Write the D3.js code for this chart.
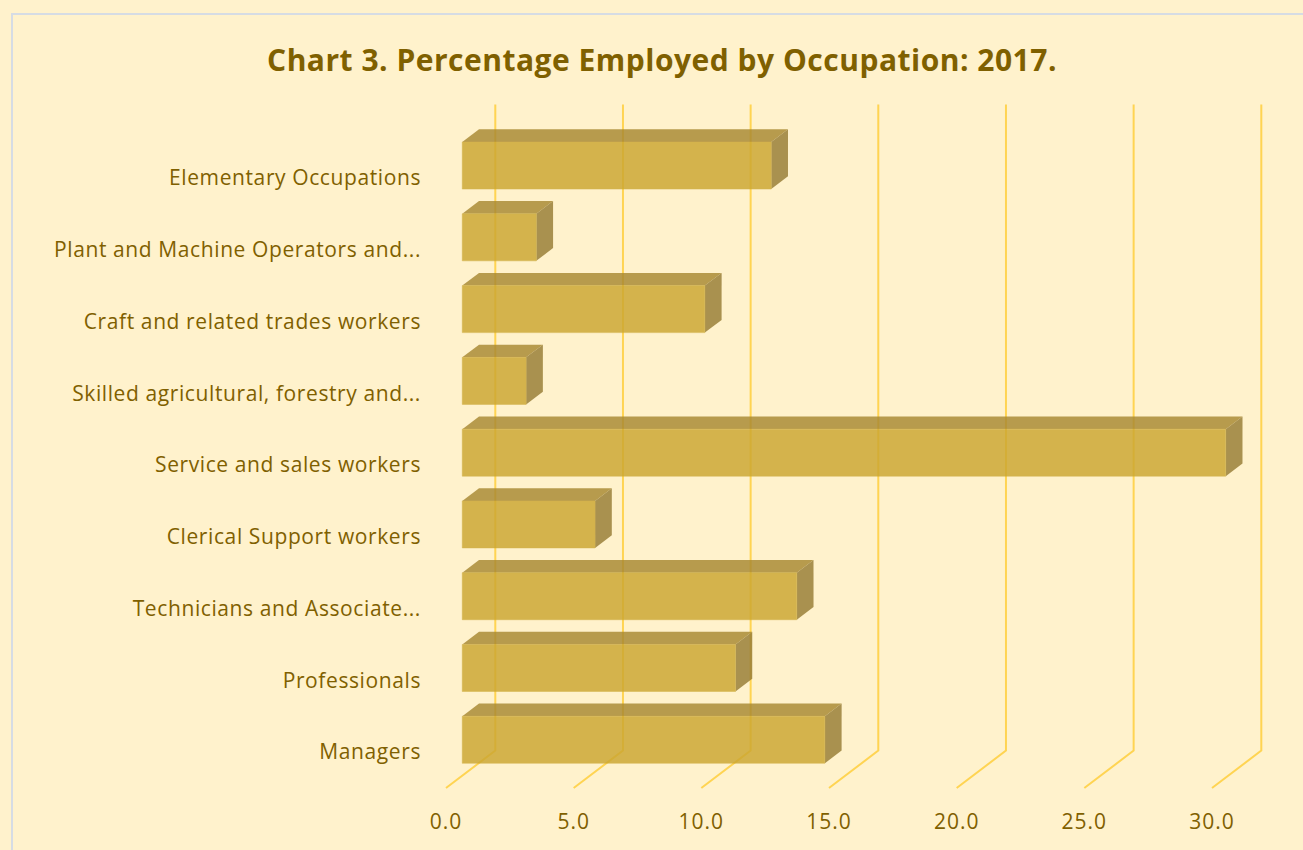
<!DOCTYPE html>
<html>
<head>
<meta charset="utf-8">
<script src="https://cdn.jsdelivr.net/npm/d3@7"></script>
<style>
  html, body { margin: 0; padding: 0; background: #FFF2CC; }
  svg { display: block; }
</style>
</head>
<body>
<svg></svg>
<script>
const width = 1303;
const height = 850;

// categories listed top to bottom as shown
const categories = [
    "Elementary Occupations",
    "Plant and Machine Operators and...",
    "Craft and related trades workers",
    "Skilled agricultural, forestry and...",
    "Service and sales workers",
    "Clerical Support workers",
    "Technicians and Associate...",
    "Professionals",
    "Managers"
];
const percents = [12.1, 2.9, 9.5, 2.5, 29.9, 5.2, 13.1, 10.7, 14.2];
const ticks = [0, 5, 10, 15, 20, 25, 30];

const textColor = "#7F6000";
const gridColor = "#FFC000";
const font = "'Open Sans', Lato, sans-serif";

// depth offset of the 3D box (front floor -> back wall)
const DX = 49.3, DY = -37.4;
const t0 = 0.33, t1 = 0.67;

const svg = d3.select("svg")
    .attr("width", width)
    .attr("height", height)
    .attr("viewBox", [0, 0, width, height]);

svg.append("rect")
    .attr("x", 0).attr("y", 0)
    .attr("width", width).attr("height", height)
    .attr("fill", "#FFF2CC");

// chart border
svg.append("rect")
    .attr("x", 12).attr("y", 14)
    .attr("width", width + 20).attr("height", height + 20)
    .attr("fill", "none")
    .attr("stroke", "#D6DCE4")
    .attr("stroke-width", 2);

const x = d3.scaleLinear().domain([0, 30]).range([446, 1212]);
const y = d3.scaleBand().domain(categories).range([142, 788]).padding(0);

const P = (vx, vy, t) => [vx + t * DX, vy + t * DY];

const floorY = y.range()[1];
const topY = y.range()[0];

// gridlines: back wall vertical + floor diagonal
const grid = svg.append("g")
    .attr("fill", "none")
    .attr("stroke", gridColor)
    .attr("stroke-opacity", 0.6)
    .attr("stroke-width", 2);

grid.selectAll("path")
    .data(ticks)
    .join("path")
    .attr("d", d => {
        const a = P(x(d), floorY, 0);
        const b = P(x(d), floorY, 1);
        const c = P(x(d), topY, 1);
        return d3.line()([a, b, c]);
    });

// bars
const barH = y.bandwidth() * 0.655;
const bars = svg.append("g")
    .attr("opacity", 0.82)
    .selectAll("g")
    .data(categories.map((c, i) => ({ name: c, value: percents[i] })))
    .join("g");

// top face
bars.append("path")
    .attr("fill", "#A88832")
    .attr("d", d => {
        const yt = y(d.name) + (y.bandwidth() - barH) / 2;
        return d3.line()([
            P(x(0), yt, t0), P(x(d.value), yt, t0),
            P(x(d.value), yt, t1), P(x(0), yt, t1)
        ]) + "Z";
    });

// side face
bars.append("path")
    .attr("fill", "#977C34")
    .attr("d", d => {
        const yt = y(d.name) + (y.bandwidth() - barH) / 2;
        return d3.line()([
            P(x(d.value), yt, t0), P(x(d.value), yt, t1),
            P(x(d.value), yt + barH, t1), P(x(d.value), yt + barH, t0)
        ]) + "Z";
    });

// front face
bars.append("path")
    .attr("fill", "#CBA631")
    .attr("stroke", "#CBA631")
    .attr("stroke-width", 0.5)
    .attr("d", d => {
        const yt = y(d.name) + (y.bandwidth() - barH) / 2;
        return d3.line()([
            P(x(0), yt, t0), P(x(d.value), yt, t0),
            P(x(d.value), yt + barH, t0), P(x(0), yt + barH, t0)
        ]) + "Z";
    });

// category labels
svg.append("g")
    .selectAll("text")
    .data(categories)
    .join("text")
    .attr("x", 421)
    .attr("y", d => y(d) + y.bandwidth() / 2)
    .attr("dy", "0.35em")
    .attr("text-anchor", "end")
    .attr("fill", textColor)
    .style("font-family", font)
    .style("font-size", "21px")
    .style("letter-spacing", "0.6px")
    .text(d => d);

// value axis labels
svg.append("g")
    .selectAll("text")
    .data(ticks)
    .join("text")
    .attr("x", d => x(d))
    .attr("y", 822)
    .attr("dy", "0.35em")
    .attr("text-anchor", "middle")
    .attr("fill", textColor)
    .style("font-family", font)
    .style("font-size", "21px")
    .style("letter-spacing", "1px")
    .text(d => d3.format(".1f")(d));

// title
svg.append("text")
    .attr("x", 662)
    .attr("y", 71)
    .attr("text-anchor", "middle")
    .attr("fill", textColor)
    .style("font-family", font)
    .style("font-weight", "bold")
    .style("font-size", "30px")
    .style("letter-spacing", "0.5px")
    .text("Chart 3. Percentage Employed by Occupation: 2017.");
</script>
</body>
</html>
